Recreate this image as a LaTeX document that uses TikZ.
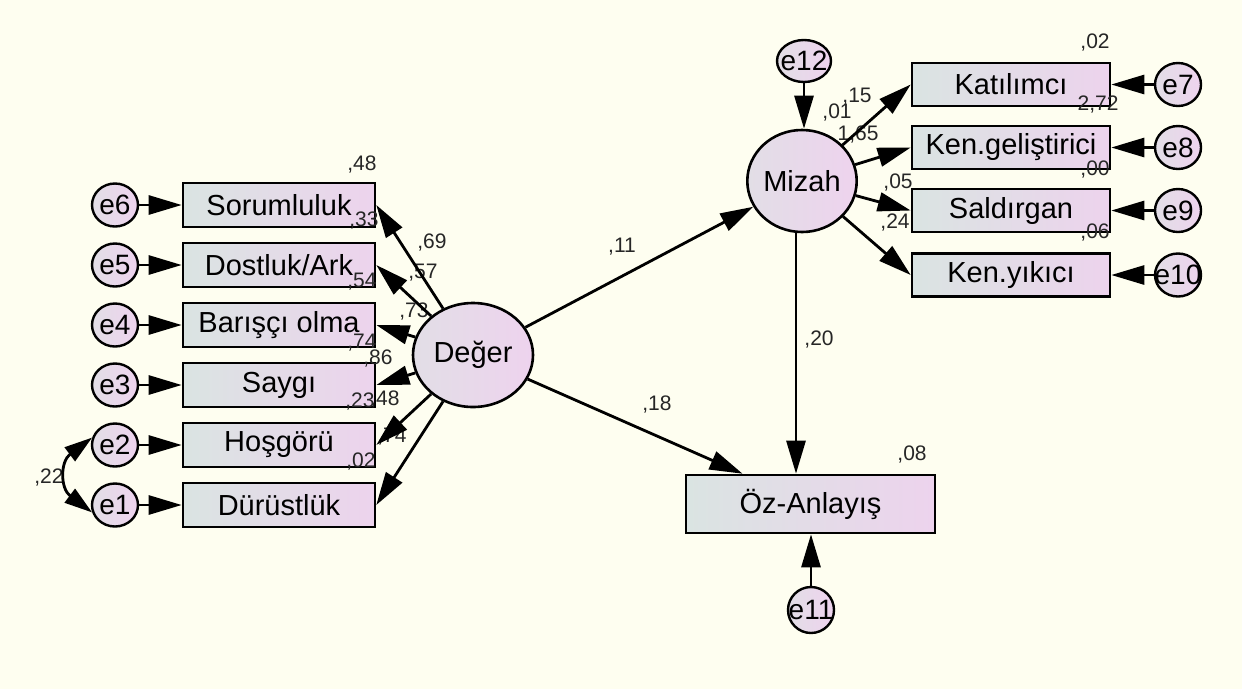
\documentclass[tikz,border=0pt]{standalone}
\usepackage{fontspec}
\setmainfont{Liberation Sans}
\usetikzlibrary{arrows.meta,shapes.geometric,calc}
\definecolor{bg}{RGB}{254,254,240}
\definecolor{boxL}{RGB}{218,228,226}
\definecolor{boxR}{RGB}{237,211,237}
\definecolor{cirL}{RGB}{226,222,230}
\definecolor{cirR}{RGB}{238,211,238}
\begin{document}
\begin{tikzpicture}[x=1pt,y=-1pt,
 obs/.style={draw, line width=2.6pt, rectangle, minimum width=192pt, minimum height=44pt, inner sep=0pt, left color=boxL, right color=boxR, font=\fontsize{29}{34}\selectfont},
 err/.style={draw, line width=2.4pt, ellipse, minimum width=46pt, minimum height=43pt, inner sep=0pt, left color=cirL, right color=cirR, font=\fontsize{28}{33}\selectfont},
 lat/.style={draw, line width=2.6pt, ellipse, inner sep=0pt, left color=cirL, right color=cirR, font=\fontsize{29}{34}\selectfont},
 num/.style={font=\fontsize{21}{25}\selectfont, text=black!85, inner sep=0pt},
 arr/.style={line width=2.8pt, -{Triangle[length=33pt,width=19pt]}},
 dblarr/.style={line width=2.8pt, {Triangle[length=28pt,width=17pt]}-{Triangle[length=28pt,width=17pt]}},
]
\useasboundingbox (0,0) rectangle (1242,689);
\fill[bg] (0,0) rectangle (1242,689);

% left observed variables
\node[obs] (soru) at (279,205) {\makebox[0pt]{Sorumluluk}};
\node[obs] (dost) at (279,265) {\makebox[0pt]{Dostluk/Ark}};
\node[obs] (bari) at (279,325) {\makebox[0pt]{Barışçı olma}};
\node[obs] (sayg) at (279,385) {\makebox[0pt]{Saygı}};
\node[obs] (hosg) at (279,445) {\makebox[0pt]{Hoşgörü}};
\node[obs] (duru) at (279,505) {\makebox[0pt]{Dürüstlük}};

% left errors
\node[err] (e6) at (115,205) {\makebox[0pt]{e6}};
\node[err] (e5) at (115,265) {\makebox[0pt]{e5}};
\node[err] (e4) at (115,325) {\makebox[0pt]{e4}};
\node[err] (e3) at (115,385) {\makebox[0pt]{e3}};
\node[err] (e2) at (115,445) {\makebox[0pt]{e2}};
\node[err] (e1) at (115,505) {\makebox[0pt]{e1}};

% latent
\node[lat, minimum width=120pt, minimum height=104pt] (deger) at (473,355) {Değer};
\node[lat, minimum width=100pt, minimum height=102pt] (mizah) at (802,181) {Mizah};

% right observed
\node[obs, minimum width=198pt, minimum height=43pt] (kati) at (1011,84.5) {\makebox[0pt]{Katılımcı}};
\node[obs, minimum width=198pt, minimum height=43pt] (kgel) at (1011,147.5) {\makebox[0pt]{Ken.geliştirici}};
\node[obs, minimum width=198pt, minimum height=43pt] (sald) at (1011,210.5) {\makebox[0pt]{Saldırgan}};
\node[obs, minimum width=198pt, minimum height=43pt] (kyik) at (1011,275) {\makebox[0pt]{Ken.yıkıcı}};
\node[obs, minimum width=249pt, minimum height=58pt] (oz) at (810.5,504) {\makebox[0pt]{Öz-Anlayış}};

% right errors
\node[err] (e7) at (1178,84.5) {\makebox[0pt]{e7}};
\node[err] (e8) at (1178,147.5) {\makebox[0pt]{e8}};
\node[err] (e9) at (1178,210.5) {\makebox[0pt]{e9}};
\node[err] (e10) at (1178,275) {\makebox[0pt]{e10}};
\node[err, minimum width=54pt, minimum height=42pt] (e12) at (804,61) {\makebox[0pt]{e12}};
\node[err, minimum width=46pt, minimum height=46pt] (e11) at (811,610) {\makebox[0pt]{e11}};

% labels
\node[num] (n1) at (362,165) {,48};
\node[num] (n2) at (364,221) {,33};
\node[num] (n3) at (432,243) {,69};
\node[num] (n4) at (423,273) {,57};
\node[num] (n5) at (362,282) {,54};
\node[num] (n6) at (414,312) {,73};
\node[num] (n7) at (362,343) {,74};
\node[num] (n8) at (378,359) {,86};
\node[num] (n9) at (360,402) {,23};
\node[num] (n10) at (385,400) {,48};
\node[num] (n11) at (392,437) {,74};
\node[num] (n12) at (361,462) {,02};
\node[num] (n13) at (49,478) {,22};
\node[num] (n14) at (622,247) {,11};
\node[num] (n15) at (657,405) {,18};
\node[num] (n16) at (819,340) {,20};
\node[num] (n17) at (912,455) {,08};
\node[num] (n18) at (1095,43) {,02};
\node[num] (n19) at (857,97) {,15};
\node[num] (n20) at (837,113) {,01};
\node[num] (n21) at (858,135) {1,65};
\node[num] (n22) at (1098,105) {2,72};
\node[num] (n23) at (1095,170) {,00};
\node[num] (n24) at (898,183) {,05};
\node[num] (n25) at (895,223) {,24};
\node[num] (n26) at (1095,233) {,06};

% arrows
\foreach \e/\b in {e6/soru,e5/dost,e4/bari,e3/sayg,e2/hosg,e1/duru,e7/kati,e8/kgel,e9/sald,e10/kyik}
  \draw[arr] (\e) -- (\b);
\foreach \b in {soru,dost,bari,sayg,hosg,duru}
  \draw[arr] (deger) -- (\b.east);
\foreach \b in {kati,kgel,sald,kyik}
  \draw[arr] (mizah) -- (\b.west);
\draw[arr] (deger) -- (mizah);
\coordinate (ozin) at ($(oz.north west)!0.23!(oz.north east)$);
\draw[arr] (deger) -- (ozin);
\coordinate (mz) at ($(mizah.south)+(-6,0)$);
\draw[arr] (mz) -- (mz |- oz.north);
\draw[arr] (e12.south) -- (e12.south |- mizah.north);
\draw[arr] (e11.north) -- (e11.north |- oz.south);
\draw[dblarr] (e2.162) .. controls +(-32,24) and +(-32,-24) .. (e1.198);
\end{tikzpicture}
\end{document}
